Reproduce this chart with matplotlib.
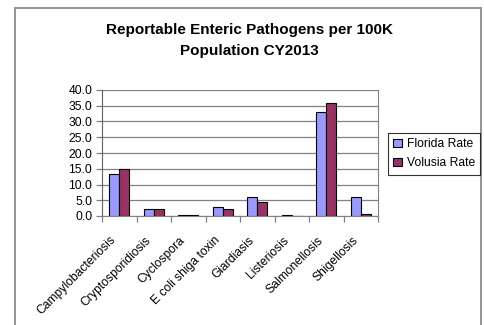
import matplotlib
matplotlib.use("Agg")
import matplotlib.pyplot as plt
from matplotlib.patches import Rectangle
from matplotlib.transforms import ScaledTranslation
import numpy as np

categories = ["Campylobacteriosis", "Cryptosporidiosis", "Cyclospora",
              "E coli shiga toxin", "Giardiasis", "Listeriosis",
              "Salmonellosis", "Shigellosis"]
florida_rate = [13.4, 2.1, 0.2, 2.7, 5.9, 0.3, 33.0, 5.9]
volusia_rate = [14.9, 2.1, 0.2, 2.1, 4.4, 0.0, 35.9, 0.5]
series_names = ["Florida Rate", "Volusia Rate"]
y_ticks = [0, 5, 10, 15, 20, 25, 30, 35, 40]

plt.rcParams["font.family"] = ["Liberation Sans", "DejaVu Sans"]

W, H = 484, 325
fig = plt.figure(figsize=(W / 100, H / 100), dpi=100)
fig.patch.set_facecolor("white")

# outer chart frame
fig.add_artist(Rectangle((15 / W, -0.05), (481 - 15) / W, 1.05 - 8 / H,
                         transform=fig.transFigure, fill=False,
                         edgecolor="#8a8a8a", linewidth=1.3, clip_on=False))

ax = fig.add_axes([102 / W, 1 - 216 / H, (378 - 102) / W, (216 - 90) / H])

x = np.arange(len(categories))
bw = 1 / 3.5
ax.bar(x - bw / 2, florida_rate, bw, color="#9999FF", edgecolor="black",
       linewidth=0.8, label=series_names[0], zorder=3)
ax.bar(x + bw / 2, volusia_rate, bw, color="#993366", edgecolor="black",
       linewidth=0.8, label=series_names[1], zorder=3)

ax.set_xlim(-0.5, len(categories) - 0.5)
ax.set_ylim(0, 40)
ax.set_yticks(y_ticks)
ax.set_yticklabels([f"{v:.1f}" for v in y_ticks], fontsize=8.7)
ax.yaxis.grid(True, color="#808080", linewidth=0.9, zorder=0)
ax.set_axisbelow(True)

ax.set_xticks(x)
ax.set_xticklabels(categories, rotation=45, ha="right", rotation_mode="anchor",
                   fontsize=8.7)
ax.tick_params(axis="x", length=0, pad=8)
shift = ScaledTranslation(-9 / 100, -7 / 100, fig.dpi_scale_trans)
for lbl in ax.get_xticklabels():
    lbl.set_transform(lbl.get_transform() + shift)
ax.set_xticks(np.arange(len(categories) + 1) - 0.5, minor=True)
ax.tick_params(axis="x", which="minor", length=4, color="#808080", width=0.9)
ax.tick_params(axis="y", length=4, color="#808080", width=0.9, pad=3)

ax.spines["top"].set_visible(False)
ax.spines["right"].set_color("#808080")
ax.spines["left"].set_color("#606060")
ax.spines["bottom"].set_color("#808080")

fig.text(249 / W, 1 - 30 / H, "Reportable Enteric Pathogens per 100K",
         ha="center", va="center", fontsize=11, fontweight="bold")
fig.text(249 / W, 1 - 50.5 / H, "Population CY2013",
         ha="center", va="center", fontsize=11, fontweight="bold")

leg = fig.legend(loc="upper left", bbox_to_anchor=(388 / W, 1 - 133 / H),
                 frameon=True, fancybox=False, edgecolor="black",
                 fontsize=8.7, handlelength=0.7, handleheight=0.7,
                 handletextpad=0.4, borderpad=0.45, labelspacing=0.55,
                 borderaxespad=0)
leg.get_frame().set_linewidth(0.8)

fig.savefig("out.png", dpi=100)
